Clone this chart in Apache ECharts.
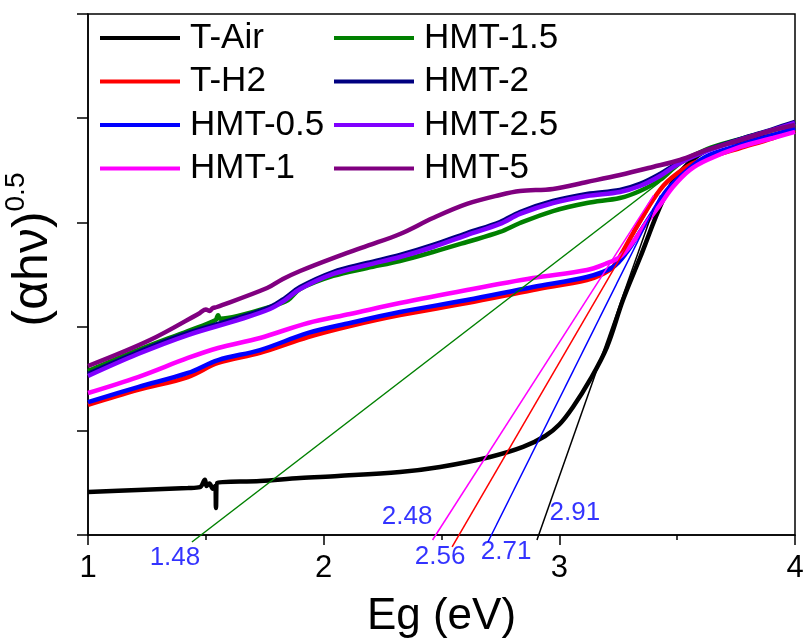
<!DOCTYPE html>
<html>
<head>
<meta charset="utf-8">
<script src="https://cdn.jsdelivr.net/npm/echarts@6/dist/echarts.min.js"></script>
<style>
  html, body { margin: 0; padding: 0; background: #fff; }
  #main { width: 804px; height: 641px; }
</style>
</head>
<body>
<div id="main"></div>
<script>
// series names (legend order)
const names = ['T-Air', 'T-H2', 'HMT-0.5', 'HMT-1', 'HMT-1.5', 'HMT-2', 'HMT-2.5', 'HMT-5']
const colors = ['#000000', '#ff0000', '#0000ff', '#ff00ff', '#008000', '#000080', '#8000ff', '#800080']

// [Eg, (ahv)^0.5]
const tAir = [[1.000,0.413],[1.212,0.432],[1.424,0.451],[1.475,0.460],[1.496,0.530],[1.503,0.470],[1.515,0.495],[1.530,0.445],[1.540,0.470],[1.543,0.259],[1.548,0.499],[1.730,0.518],[1.900,0.547],[2.061,0.566],[2.324,0.605],[2.494,0.653],[2.706,0.749],[2.846,0.845],[2.940,0.950],[3.000,1.060],[3.058,1.228],[3.130,1.488],[3.202,1.804],[3.270,2.255],[3.342,2.658],[3.440,3.215],[3.512,3.484],[3.627,3.695],[3.767,3.781],[3.894,3.829],[4.000,3.877]]
const tH2 = [[1.000,1.248],[1.212,1.392],[1.424,1.516],[1.552,1.651],[1.730,1.747],[1.934,1.900],[2.112,2.006],[2.324,2.111],[2.608,2.226],[2.888,2.351],[3.117,2.447],[3.185,2.505],[3.228,2.572],[3.313,2.898],[3.397,3.215],[3.457,3.388],[3.554,3.551],[3.627,3.618],[3.767,3.714],[3.907,3.810],[4.000,3.887]]
const hmt05 = [[1.000,1.276],[1.212,1.420],[1.424,1.555],[1.552,1.679],[1.730,1.775],[1.934,1.939],[2.112,2.035],[2.324,2.140],[2.608,2.255],[2.888,2.380],[3.117,2.476],[3.228,2.572],[3.287,2.716],[3.342,2.908],[3.397,3.100],[3.457,3.311],[3.554,3.522],[3.627,3.637],[3.767,3.743],[3.907,3.839],[4.000,3.906]]
const hmt1 = [[1.000,1.363],[1.212,1.516],[1.424,1.699],[1.552,1.795],[1.730,1.891],[1.934,2.035],[2.112,2.121],[2.324,2.226],[2.608,2.351],[2.888,2.466],[3.117,2.543],[3.194,2.601],[3.257,2.668],[3.313,2.812],[3.372,3.004],[3.427,3.167],[3.482,3.340],[3.554,3.503],[3.627,3.599],[3.767,3.724],[3.907,3.810],[4.000,3.868]]
const hmt15 = [[1.000,1.574],[1.212,1.775],[1.424,1.958],[1.540,2.060],[1.552,2.110],[1.560,2.075],[1.636,2.102],[1.772,2.188],[1.849,2.255],[1.900,2.361],[2.040,2.486],[2.184,2.562],[2.324,2.630],[2.464,2.716],[2.608,2.812],[2.748,2.908],[2.833,2.994],[2.973,3.109],[3.117,3.186],[3.257,3.234],[3.342,3.301],[3.427,3.407],[3.512,3.570],[3.627,3.704],[3.767,3.800],[3.907,3.887],[4.000,3.954]]
const hmt2 = [[1.000,1.545],[1.212,1.756],[1.424,1.939],[1.636,2.083],[1.772,2.188],[1.836,2.274],[1.900,2.380],[2.040,2.524],[2.184,2.610],[2.324,2.687],[2.464,2.783],[2.608,2.898],[2.748,3.004],[2.833,3.100],[2.973,3.205],[3.117,3.273],[3.257,3.311],[3.342,3.369],[3.427,3.465],[3.512,3.580],[3.627,3.695],[3.767,3.800],[3.907,3.896],[4.000,3.964]]
const hmt25 = [[1.000,1.526],[1.212,1.737],[1.424,1.919],[1.636,2.063],[1.772,2.169],[1.836,2.255],[1.900,2.361],[2.040,2.505],[2.184,2.591],[2.324,2.668],[2.464,2.764],[2.608,2.879],[2.748,2.985],[2.833,3.081],[2.973,3.186],[3.117,3.253],[3.257,3.292],[3.342,3.349],[3.427,3.445],[3.512,3.570],[3.627,3.685],[3.767,3.791],[3.907,3.887],[4.000,3.954]]
const hmt5 = [[1.000,1.622],[1.263,1.871],[1.475,2.131],[1.500,2.165],[1.515,2.150],[1.530,2.178],[1.547,2.188],[1.760,2.370],[1.827,2.457],[1.900,2.534],[2.040,2.658],[2.184,2.774],[2.324,2.889],[2.464,3.042],[2.608,3.177],[2.748,3.263],[2.833,3.301],[2.973,3.321],[3.117,3.388],[3.257,3.455],[3.397,3.532],[3.512,3.599],[3.627,3.695],[3.767,3.791],[3.907,3.887],[4.000,3.935]]
const curves = [tAir, tH2, hmt05, hmt1, hmt15, hmt2, hmt25, hmt5]

// tangent (Tauc) lines
const fitAir = [[2.905,-0.048],[3.400,3.130]]
const fitH2 = [[2.545,-0.115],[3.414,3.263]]
const fit05 = [[2.697,-0.067],[3.430,3.260]]
const fit1 = [[2.462,-0.048],[3.400,3.260]]
const fit15 = [[1.441,-0.067],[3.427,3.388]]
const fits = [fitAir, fitH2, fit05, fit1, fit15]
const fitColors = ['#000000', '#ff0000', '#0000ff', '#ff00ff', '#008000']

// band gap labels: [x, y, text]
const gapLabels = [[1.369,-0.221,'1.48'],[2.354,0.173,'2.48'],[2.494,-0.211,'2.56'],[2.774,-0.163,'2.71'],[3.066,0.211,'2.91']]

const xTicks = [1, 2, 3, 4]
const font = 'Liberation Sans, Arial, sans-serif'

const chart = echarts.init(document.getElementById('main'))

const series = []
curves.forEach((d, i) => {
    series.push({
        name: names[i],
        type: 'line',
        data: d,
        symbol: 'none',
        smooth: 0.35,
        lineStyle: { color: colors[i], width: 4.5 },
        itemStyle: { color: colors[i] }
    })
})
fits.forEach((d, i) => {
    series.push({
        type: 'line',
        data: d,
        symbol: 'none',
        clip: false,
        lineStyle: { color: fitColors[i], width: 1.5 },
        z: 3
    })
})
series.push({
    type: 'scatter',
    clip: false,
    symbolSize: 0,
    data: gapLabels.map(g => ({ value: [g[0], g[1]], name: g[2] })),
    label: {
        show: true,
        position: 'inside',
        formatter: p => p.name,
        color: '#0000ff',
        fontSize: 26,
        fontFamily: font
    }
})

const legendBase = {
    orient: 'vertical',
    top: 20,
    padding: 0,
    itemWidth: 80,
    itemHeight: 4,
    itemGap: 7.5,
    icon: 'rect',
    textStyle: { fontSize: 35, lineHeight: 36, color: '#000', fontFamily: font, padding: [0, 0, 0, 5] }
}

chart.setOption({
    animation: false,
    grid: {
        left: 88, right: 9, top: 14, bottom: 106,
        outerBoundsMode: 'none',
        containLabel: false,
        show: true, borderColor: '#000', borderWidth: 1.5
    },
    legend: [
        Object.assign({}, legendBase, { left: 100, data: names.slice(0, 4) }),
        Object.assign({}, legendBase, { left: 334, data: names.slice(4) })
    ],
    xAxis: {
        type: 'value',
        min: 1,
        max: 4,
        interval: 1,
        name: 'Eg (eV)',
        nameLocation: 'middle',
        nameGap: 60,
        nameTextStyle: { fontSize: 44, color: '#000', fontFamily: font },
        axisLine: { lineStyle: { color: '#000', width: 1.5 } },
        axisTick: { length: 10, lineStyle: { color: '#000', width: 1.5 } },
        minorTick: { show: true, splitNumber: 2, length: 5, lineStyle: { color: '#000', width: 1.5 } },
        axisLabel: {
            fontSize: 31, color: '#000', fontFamily: font, margin: 18,
            formatter: v => xTicks.includes(v) ? String(v) : ''
        },
        splitLine: { show: false }
    },
    yAxis: {
        type: 'value',
        min: 0,
        max: 5,
        interval: 1,
        name: '{a|(αhν)}{b|0.5}',
        nameLocation: 'middle',
        nameRotate: 90,
        nameGap: 24,
        nameTextStyle: {
            padding: [0, 0, 0, 50],
            rich: {
                a: { fontSize: 50, lineHeight: 62, color: '#000', fontFamily: font },
                b: { fontSize: 28, lineHeight: 30, verticalAlign: 'top', color: '#000', fontFamily: font }
            }
        },
        axisLine: { show: true, lineStyle: { color: '#000', width: 1.5 } },
        axisTick: { show: true, length: 11, lineStyle: { color: '#000', width: 1.5 } },
        axisLabel: { show: false },
        splitLine: { show: false }
    },
    series: series
})
</script>
</body>
</html>
